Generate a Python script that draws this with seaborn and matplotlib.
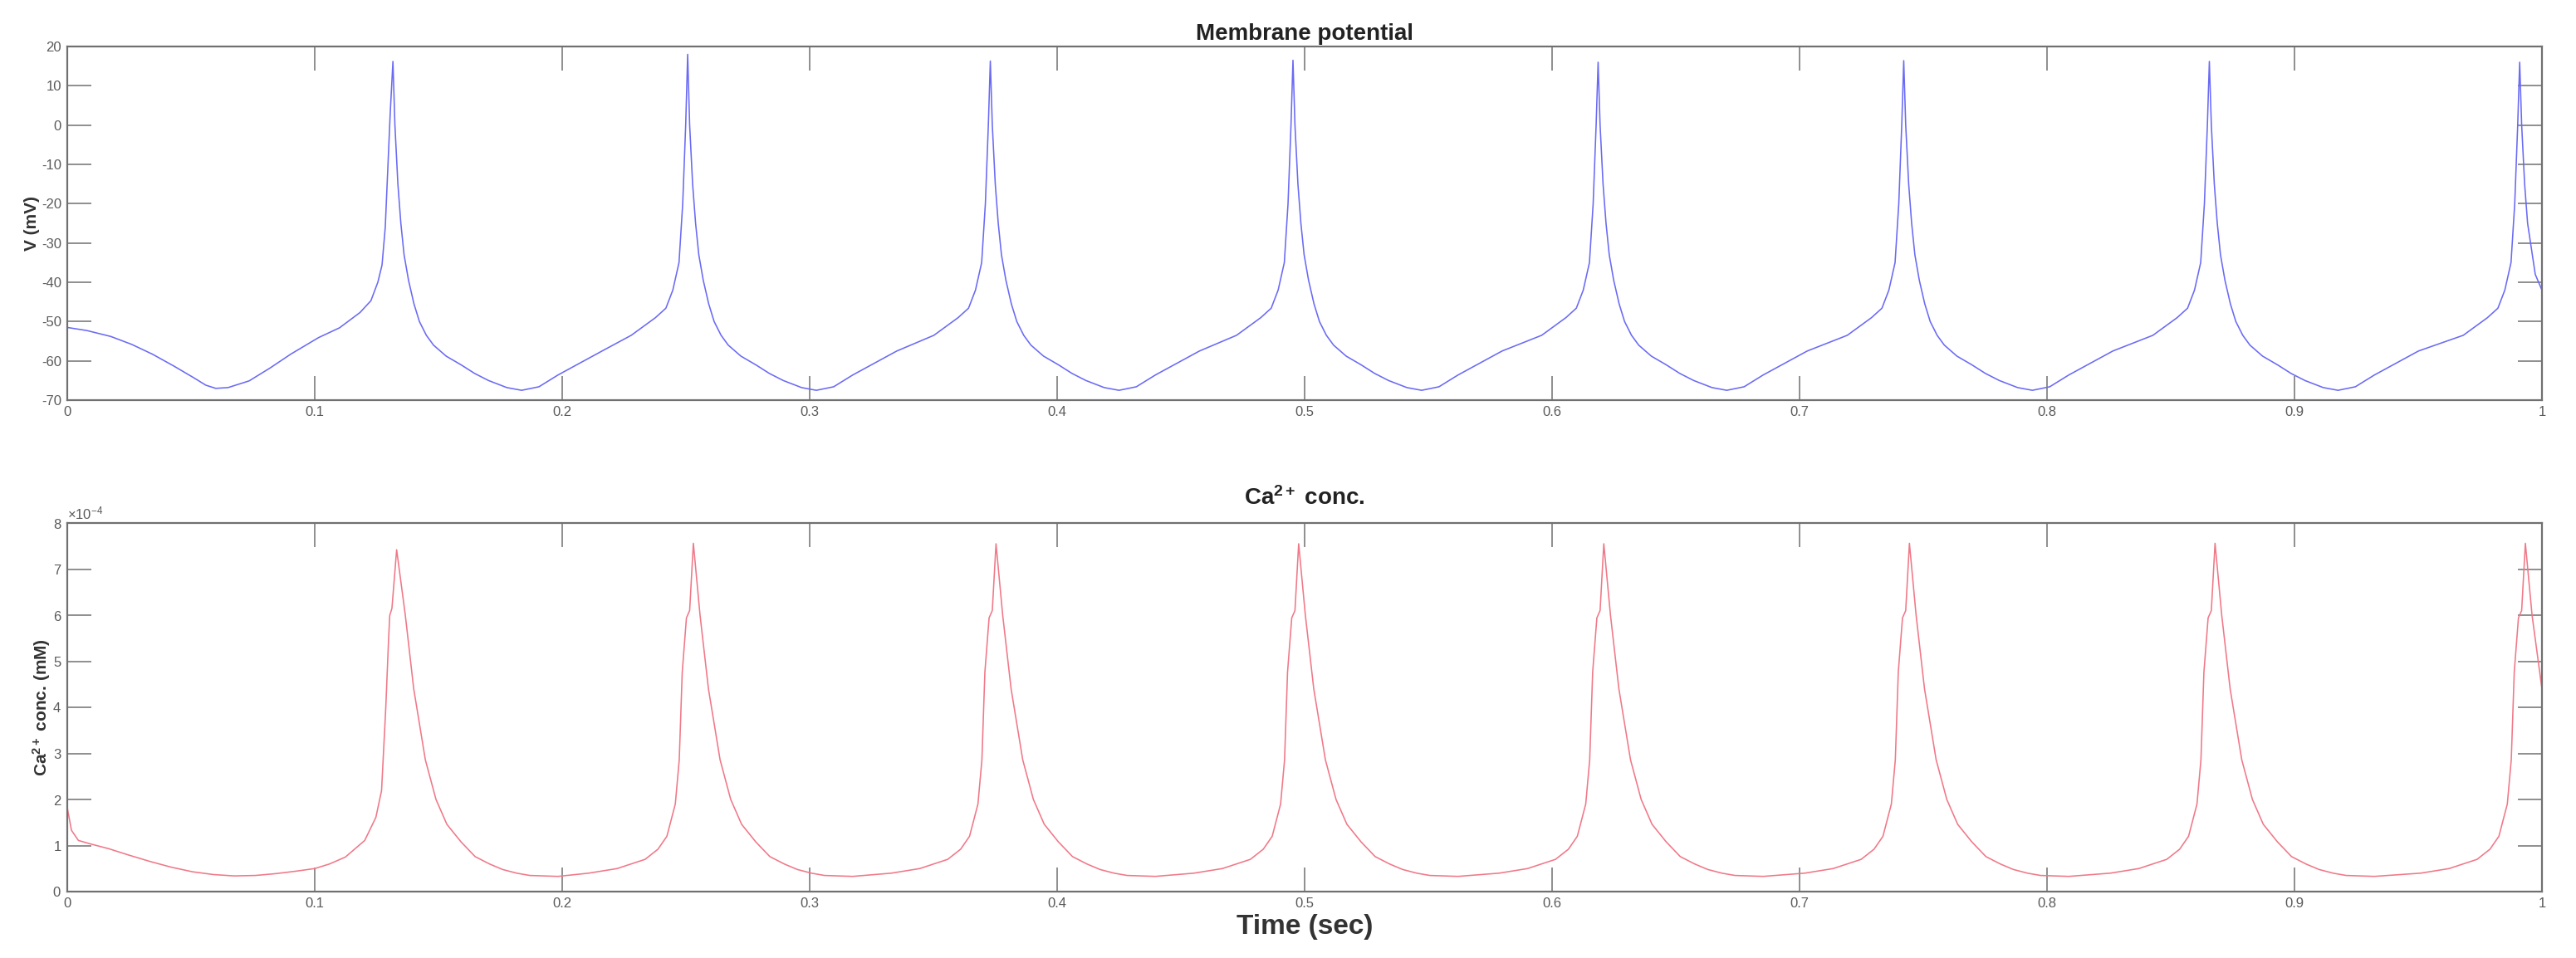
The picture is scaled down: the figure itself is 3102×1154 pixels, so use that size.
import numpy as np
import pandas as pd
import matplotlib
matplotlib.use("Agg")
import matplotlib.pyplot as plt
from matplotlib.ticker import ScalarFormatter, FixedLocator
import seaborn as sns

# ---------------- data ----------------
# Membrane potential trace: time (s) and V (mV)
t_v = [
    0.0000, 0.0080, 0.0176, 0.0260, 0.0344, 0.0430, 0.0511, 0.0560, 0.0600, 0.0650,
    0.0735, 0.0820, 0.0903, 0.1015, 0.1100, 0.1183, 0.1227, 0.1255, 0.1272, 0.1285,
    0.1294, 0.1305, 0.1316,
    0.1324, 0.1336, 0.1348, 0.1379, 0.1423, 0.1480, 0.1591, 0.1702, 0.1776, 0.1836,
    0.1906, 0.1983, 0.2161, 0.2279, 0.2377, 0.2419, 0.2447, 0.2472, 0.2487, 0.2499, 0.2507,
    0.2515, 0.2527, 0.2539, 0.2570, 0.2614, 0.2671, 0.2782, 0.2893, 0.2967, 0.3027,
    0.3097, 0.3174, 0.3352, 0.3502, 0.3600, 0.3642, 0.3670, 0.3695, 0.3710, 0.3722, 0.3730,
    0.3738, 0.3750, 0.3762, 0.3793, 0.3837, 0.3894, 0.4005, 0.4116, 0.4190, 0.4250,
    0.4320, 0.4397, 0.4575, 0.4725, 0.4823, 0.4865, 0.4893, 0.4918, 0.4933, 0.4945, 0.4953,
    0.4961, 0.4973, 0.4985, 0.5016, 0.5060, 0.5117, 0.5228, 0.5339, 0.5413, 0.5473,
    0.5543, 0.5620, 0.5798, 0.5958, 0.6056, 0.6098, 0.6126, 0.6151, 0.6166, 0.6178, 0.6186,
    0.6194, 0.6206, 0.6218, 0.6249, 0.6293, 0.6350, 0.6461, 0.6572, 0.6646, 0.6706,
    0.6776, 0.6853, 0.7031, 0.7193, 0.7291, 0.7333, 0.7361, 0.7386, 0.7401, 0.7413, 0.7421,
    0.7429, 0.7441, 0.7453, 0.7484, 0.7528, 0.7585, 0.7696, 0.7807, 0.7881, 0.7941,
    0.8011, 0.8088, 0.8266, 0.8428, 0.8526, 0.8568, 0.8596, 0.8621, 0.8636, 0.8648, 0.8656,
    0.8664, 0.8676, 0.8688, 0.8719, 0.8763, 0.8820, 0.8931, 0.9042, 0.9116, 0.9176,
    0.9246, 0.9323, 0.9501, 0.9682, 0.9780, 0.9822, 0.9850, 0.9875, 0.9890, 0.9902, 0.9910,
    0.9918, 0.9930, 0.9942, 0.9973, 1.0000,
]
v_mv = [
    -51.5, -52.3, -53.8, -55.8, -58.3, -61.3, -64.3, -66.2, -67.0, -66.8,
    -65.1, -61.8, -58.3, -54.1, -51.6, -47.7, -44.7, -40.0, -35.6, -26.0,
    -12.9, 3.0, 16.2,
    0.0, -15.0, -25.0, -39.5, -50.0, -56.0, -61.0, -65.0, -66.8, -67.5,
    -66.6, -63.6, -57.5, -53.5, -49.0, -46.6, -42.0, -35.0, -20.0, 0.0, 18.0,
    0.0, -15.0, -25.0, -39.5, -50.0, -56.0, -61.0, -65.0, -66.8, -67.5,
    -66.6, -63.6, -57.5, -53.5, -49.0, -46.6, -42.0, -35.0, -20.0, 0.0, 16.3,
    0.0, -15.0, -25.0, -39.5, -50.0, -56.0, -61.0, -65.0, -66.8, -67.5,
    -66.6, -63.6, -57.5, -53.5, -49.0, -46.6, -42.0, -35.0, -20.0, 0.0, 16.5,
    0.0, -15.0, -25.0, -39.5, -50.0, -56.0, -61.0, -65.0, -66.8, -67.5,
    -66.6, -63.6, -57.5, -53.5, -49.0, -46.6, -42.0, -35.0, -20.0, 0.0, 16.0,
    0.0, -15.0, -25.0, -39.5, -50.0, -56.0, -61.0, -65.0, -66.8, -67.5,
    -66.6, -63.6, -57.5, -53.5, -49.0, -46.6, -42.0, -35.0, -20.0, 0.0, 16.4,
    0.0, -15.0, -25.0, -39.5, -50.0, -56.0, -61.0, -65.0, -66.8, -67.5,
    -66.6, -63.6, -57.5, -53.5, -49.0, -46.6, -42.0, -35.0, -20.0, 0.0, 16.2,
    0.0, -15.0, -25.0, -39.5, -50.0, -56.0, -61.0, -65.0, -66.8, -67.5,
    -66.6, -63.6, -57.5, -53.5, -49.0, -46.6, -42.0, -35.0, -20.0, 0.0, 16.0,
    0.0, -15.0, -25.0, -38.0, -42.0,
]
# extra readings on the repolarisation phase of each spike
t_v_extra = [
    0.1361, 0.1401, 0.1451, 0.1531, 0.1646,
    0.2552, 0.2592, 0.2642, 0.2722, 0.2837,
    0.3775, 0.3815, 0.3865, 0.3945, 0.4060,
    0.4998, 0.5038, 0.5088, 0.5168, 0.5283,
    0.6231, 0.6271, 0.6321, 0.6401, 0.6516,
    0.7466, 0.7506, 0.7556, 0.7636, 0.7751,
    0.8701, 0.8741, 0.8791, 0.8871, 0.8986,
]
v_mv_extra = [
    -33.0, -45.5, -53.5, -58.8, -63.2,
    -33.0, -45.5, -53.5, -58.8, -63.2,
    -33.0, -45.5, -53.5, -58.8, -63.2,
    -33.0, -45.5, -53.5, -58.8, -63.2,
    -33.0, -45.5, -53.5, -58.8, -63.2,
    -33.0, -45.5, -53.5, -58.8, -63.2,
    -33.0, -45.5, -53.5, -58.8, -63.2,
]

# Calcium concentration trace: time (s) and [Ca2+] in units of 1e-4 mM
t_ca = [
    0.0000, 0.0017, 0.0045, 0.0090, 0.0168, 0.0250, 0.0337, 0.0420, 0.0506, 0.0590,
    0.0674, 0.0760, 0.0843, 0.0920, 0.1000, 0.1060, 0.1124, 0.1202, 0.1247, 0.1270,
    0.1287, 0.1298, 0.1303, 0.1312, 0.1331,
    0.1366, 0.1400, 0.1447, 0.1490, 0.1534, 0.1591, 0.1648, 0.1759, 0.1869, 0.1983,
    0.2107, 0.2222, 0.2335, 0.2423, 0.2457, 0.2473, 0.2485, 0.2502, 0.2515, 0.2530,
    0.2557, 0.2591, 0.2638, 0.2681, 0.2725, 0.2782, 0.2839, 0.2950, 0.3060, 0.3174,
    0.3330, 0.3445, 0.3558, 0.3646, 0.3680, 0.3696, 0.3708, 0.3725, 0.3738, 0.3753,
    0.3780, 0.3814, 0.3861, 0.3904, 0.3948, 0.4005, 0.4062, 0.4173, 0.4283, 0.4397,
    0.4553, 0.4668, 0.4781, 0.4869, 0.4903, 0.4919, 0.4931, 0.4948, 0.4961, 0.4976,
    0.5003, 0.5037, 0.5084, 0.5127, 0.5171, 0.5228, 0.5285, 0.5396, 0.5506, 0.5620,
    0.5786, 0.5901, 0.6014, 0.6102, 0.6136, 0.6152, 0.6164, 0.6181, 0.6194, 0.6209,
    0.6236, 0.6270, 0.6317, 0.6360, 0.6404, 0.6461, 0.6518, 0.6629, 0.6739, 0.6853,
    0.7021, 0.7136, 0.7249, 0.7337, 0.7371, 0.7387, 0.7399, 0.7416, 0.7429, 0.7444,
    0.7471, 0.7505, 0.7552, 0.7595, 0.7639, 0.7696, 0.7753, 0.7864, 0.7974, 0.8088,
    0.8256, 0.8371, 0.8484, 0.8572, 0.8606, 0.8622, 0.8634, 0.8651, 0.8664, 0.8679,
    0.8706, 0.8740, 0.8787, 0.8830, 0.8874, 0.8931, 0.8988, 0.9099, 0.9209, 0.9323,
    0.9510, 0.9625, 0.9738, 0.9826, 0.9860, 0.9876, 0.9888, 0.9905, 0.9918, 0.9933,
    0.9960, 1.0000,
]
ca_e4 = [
    1.82, 1.33, 1.11, 1.04, 0.93, 0.79, 0.65, 0.53, 0.43, 0.37,
    0.34, 0.35, 0.39, 0.44, 0.50, 0.60, 0.75, 1.11, 1.61, 2.19,
    3.98, 5.42, 5.99, 6.15, 7.42,
    6.00, 4.40, 2.86, 2.00, 1.46, 1.08, 0.76, 0.48, 0.35, 0.33,
    0.40, 0.50, 0.70, 1.20, 1.90, 2.86, 4.76, 5.94, 6.10, 7.56,
    6.00, 4.40, 2.86, 2.00, 1.46, 1.08, 0.76, 0.48, 0.35, 0.33,
    0.40, 0.50, 0.70, 1.20, 1.90, 2.86, 4.76, 5.94, 6.10, 7.55,
    6.00, 4.40, 2.86, 2.00, 1.46, 1.08, 0.76, 0.48, 0.35, 0.33,
    0.40, 0.50, 0.70, 1.20, 1.90, 2.86, 4.76, 5.94, 6.10, 7.55,
    6.00, 4.40, 2.86, 2.00, 1.46, 1.08, 0.76, 0.48, 0.35, 0.33,
    0.40, 0.50, 0.70, 1.20, 1.90, 2.86, 4.76, 5.94, 6.10, 7.55,
    6.00, 4.40, 2.86, 2.00, 1.46, 1.08, 0.76, 0.48, 0.35, 0.33,
    0.40, 0.50, 0.70, 1.20, 1.90, 2.86, 4.76, 5.94, 6.10, 7.56,
    6.00, 4.40, 2.86, 2.00, 1.46, 1.08, 0.76, 0.48, 0.35, 0.33,
    0.40, 0.50, 0.70, 1.20, 1.90, 2.86, 4.76, 5.94, 6.10, 7.56,
    6.00, 4.40, 2.86, 2.00, 1.46, 1.08, 0.76, 0.48, 0.35, 0.33,
    0.40, 0.50, 0.70, 1.20, 1.90, 2.86, 4.76, 5.94, 6.10, 7.56,
    6.00, 4.40,
]
# extra readings on the decay tail and the upstroke foot
t_ca_extra = [
    0.1706, 0.2897, 0.4120, 0.5343, 0.6576, 0.7811, 0.9046,
    0.1816, 0.3007, 0.4230, 0.5453, 0.6686, 0.7921, 0.9156,
    0.2387, 0.3610, 0.4833, 0.6066, 0.7301, 0.8536, 0.9790,
]
ca_e4_extra = [
    0.60, 0.60, 0.60, 0.60, 0.60, 0.60, 0.60,
    0.40, 0.40, 0.40, 0.40, 0.40, 0.40, 0.40,
    0.92, 0.92, 0.92, 0.92, 0.92, 0.92, 0.92,
]

x_ticks = [0, 0.1, 0.2, 0.3, 0.4, 0.5, 0.6, 0.7, 0.8, 0.9, 1.0]
x_tick_labels = ["0", "0.1", "0.2", "0.3", "0.4", "0.5", "0.6", "0.7", "0.8", "0.9", "1"]
v_ticks = [-70, -60, -50, -40, -30, -20, -10, 0, 10, 20]
ca_ticks_e4 = [0, 1, 2, 3, 4, 5, 6, 7, 8]

title_top = "Membrane potential"
title_bottom = r"$\mathbf{Ca^{2+}}$ conc."
ylabel_top = "V (mV)"
ylabel_bottom = r"$\mathbf{Ca^{2+}}$ conc. (mM)"
xlabel = "Time (sec)"

# ---------------- figure ----------------
sns.set_theme(style="white")
plt.rcParams["font.family"] = ["Liberation Sans", "DejaVu Sans"]
plt.rcParams["axes.unicode_minus"] = False
plt.rcParams["mathtext.fontset"] = "custom"
plt.rcParams["mathtext.rm"] = "Liberation Sans"
plt.rcParams["mathtext.bf"] = "Liberation Sans:bold"
plt.rcParams["mathtext.it"] = "Liberation Sans:italic"

W, H = 3102, 1154
fig = plt.figure(figsize=(W / 100, H / 100), dpi=100)
fig.patch.set_facecolor("white")

def frac(l, t, r, b):
    return [l / W, 1 - b / H, (r - l) / W, (b - t) / H]

ax1 = fig.add_axes(frac(81, 56, 3061, 482))
ax2 = fig.add_axes(frac(81, 630, 3061, 1074))

df_v = pd.DataFrame({"t": t_v + t_v_extra, "V": v_mv + v_mv_extra}).sort_values("t", kind="stable")
df_ca = pd.DataFrame({"t": t_ca + t_ca_extra,
                      "Ca": np.array(ca_e4 + ca_e4_extra) * 1e-4}).sort_values("t", kind="stable")

sns.lineplot(data=df_v, x="t", y="V", ax=ax1, sort=False, estimator=None,
             color="#6a6af5", linewidth=1.15)
sns.lineplot(data=df_ca, x="t", y="Ca", ax=ax2, sort=False, estimator=None,
             color="#f07888", linewidth=1.15)

axis_col = "#707070"
tick_col = "#5a5a5a"
for ax in (ax1, ax2):
    ax.set_xlim(0, 1)
    ax.xaxis.set_major_locator(FixedLocator(x_ticks))
    ax.set_xticklabels(x_tick_labels)
    for sp in ax.spines.values():
        sp.set_visible(True)
        sp.set_color(axis_col)
        sp.set_linewidth(1.6)
    ax.tick_params(axis="both", which="major", direction="in", length=21,
                   width=1.1, color=axis_col, labelcolor=tick_col,
                   labelsize=12, top=True, right=True, bottom=True, left=True,
                   pad=5)
    ax.grid(False)
    ax.set_facecolor("white")

ax1.set_ylim(-70, 20)
ax1.set_yticks(v_ticks)
ax1.set_title(title_top, fontsize=20, fontweight="bold", color="#222222", pad=6)
ax1.set_ylabel(ylabel_top, fontsize=15, fontweight="bold", color="#333333")
ax1.yaxis.set_label_coords(-0.0112, 0.5)
ax1.set_xlabel("")

ax2.set_ylim(0, 8e-4)
ax2.set_yticks(np.array(ca_ticks_e4) * 1e-4)
fmt = ScalarFormatter(useMathText=True)
fmt.set_powerlimits((-3, 3))
ax2.yaxis.set_major_formatter(fmt)
ax2.yaxis.get_offset_text().set_fontsize(12)
ax2.yaxis.get_offset_text().set_color(tick_col)
ax2.set_title(title_bottom, fontsize=20, fontweight="bold", color="#222222", pad=16)
ax2.set_ylabel(ylabel_bottom, fontsize=15, fontweight="bold", color="#333333")
ax2.yaxis.set_label_coords(-0.0062, 0.5)
ax2.set_xlabel(xlabel, fontsize=24, fontweight="bold", color="#333333", labelpad=4)

fig.savefig("out.png", dpi=100, facecolor="white")
